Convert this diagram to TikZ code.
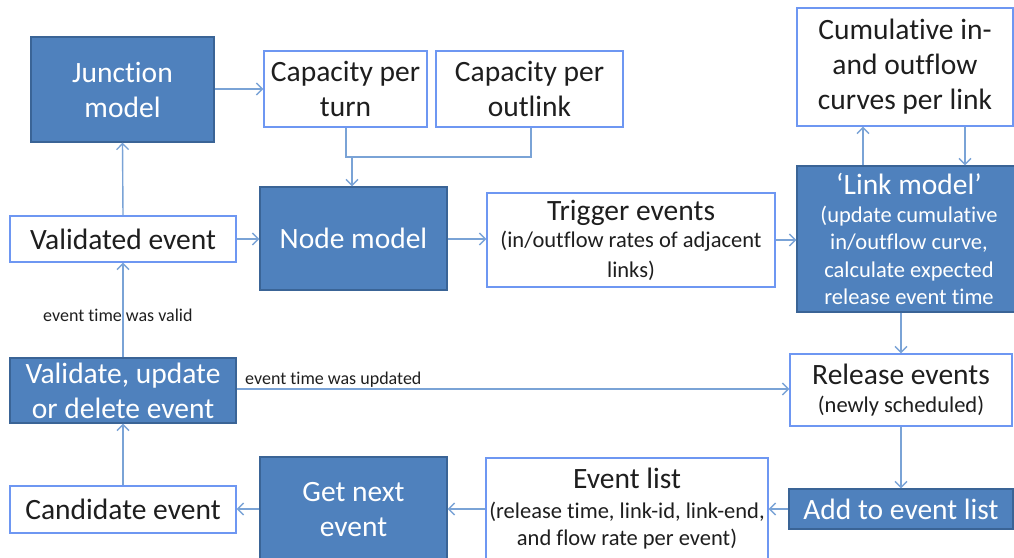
\documentclass[tikz,border=0pt]{standalone}
\usepackage{fontspec}
\setmainfont{Carlito}[Ligatures=NoCommon]
\usetikzlibrary{arrows.meta}
\definecolor{bfill}{HTML}{4F81BD}
\definecolor{bdark}{HTML}{3A6496}
\definecolor{wline}{HTML}{6E97F2}
\definecolor{conn}{HTML}{7AA3D6}
\definecolor{txt}{HTML}{1E1E1E}
\newcommand{\subsz}{\fontsize{22.5}{27}\selectfont}
\tikzset{
  blue box/.style={draw=bdark, line width=1.4pt, fill=bfill, text=white, align=center, inner sep=0pt,
    font=\fontsize{29.5}{35}\selectfont},
  white box/.style={draw=wline, line width=1.4pt, fill=white, text=txt, align=center, inner sep=0pt,
    font=\fontsize{29.5}{35}\selectfont},
  mixed/.style={font=\fontsize{29.5}{27.5}\selectfont},
  box text/.style={text=txt, align=center, inner sep=0pt},
  conn/.style={draw=conn, line width=1.4pt, -{Straight Barb[length=6pt,width=12pt,line width=1.3pt]}},
  plain conn/.style={draw=conn, line width=1.4pt},
  small label/.style={font=\fontsize{18}{21}\selectfont, text=txt, inner sep=0pt}
}
\begin{document}
\begin{tikzpicture}[x=1pt,y=-1pt]
\useasboundingbox (0,0) rectangle (1014,557);
\clip (0,0) rectangle (1014,557);
% top row
\node[blue box, minimum width=183pt, minimum height=105pt] (junc) at (122.5,89.5) {Junction\\model};
\node[white box, minimum width=163pt, minimum height=76pt] (capt) at (345.5,89) {Capacity per\\turn};
\node[white box, minimum width=187pt, minimum height=76pt] (capo) at (529.5,89) {Capacity per\\outlink};
\node[white box, minimum width=216pt, minimum height=118pt] (cum) at (905,67) {Cumulative in-\\and outflow\\curves per link};
% second row
\node[white box, minimum width=226pt, minimum height=46pt] (valid) at (123,239) {Validated event};
\node[blue box, minimum width=187pt, minimum height=103pt] (node) at (353.5,238.5) {Node model};
\node[white box, mixed, minimum width=288pt, minimum height=94pt] (trig) at (631,240) {Trigger events\\\subsz (in/outflow rates of adjacent\\[2pt]\subsz links)};
\node[blue box, mixed, minimum width=224pt, minimum height=146pt] (link) at (909,239) {`Link model'\\\subsz (update cumulative\\\subsz in/outflow curve,\\\subsz calculate expected\\\subsz release event time};
% third row
\node[blue box, minimum width=226pt, minimum height=65pt] (vud) at (123,390.5) {Validate, update\\or delete event};
\node[white box, mixed, minimum width=222pt, minimum height=72pt] (rel) at (901,390) {Release events\\[1pt]\subsz (newly scheduled)};
% bottom row
\node[white box, minimum width=226pt, minimum height=47pt] (cand) at (123,509.5) {Candidate event};
\node[blue box, minimum width=187pt, minimum height=106pt] (next) at (353.5,510) {Get next\\event};
\node[white box, minimum width=282pt, minimum height=124pt] (elist) at (627,520) {};
\node[box text, mixed, anchor=north] (elisttxt) at (627,468) {Event list\\[2pt]\subsz (release time, link-id, link-end,\\\subsz and flow rate per event)};
\node[blue box, minimum width=224pt, minimum height=40pt] (add) at (901,509) {Add to event list};
% connectors
\draw[conn] (junc.east |- 0,89) -- (capt.west |- 0,89);
\draw[conn] (valid.north) -- (junc.south);
\draw[conn] (valid.east) -- (node.west |- valid.east);
\coordinate (mL) at (346,157);
\coordinate (mR) at (531,157);
\coordinate (mA) at (352,157);
\draw[plain conn] (capt.south -| mL) -- (mL) -- (mR) -- (capo.south -| mR);
\draw[conn] (mA) -- (node.north -| mA);
\draw[conn] (node.east |- 0,239) -- (trig.west |- 0,239);
\draw[conn] (trig.east |- 0,240) -- (link.west |- 0,240);
\coordinate (cu) at (863,0);
\coordinate (cd) at (965,0);
\draw[conn] (link.north -| cu) -- (cum.south -| cu);
\draw[conn] (cum.south -| cd) -- (link.north -| cd);
\coordinate (rx) at (901,0);
\draw[conn] (link.south -| rx) -- (rel.north -| rx);
\draw[conn] (rel.south -| rx) -- (add.north -| rx);
\draw[conn] (add.west) -- (elist.east |- add.west);
\draw[conn] (elist.west |- 0,509) -- (next.east |- 0,509);
\draw[conn] (next.west |- 0,509) -- (cand.east |- 0,509);
\draw[conn] (cand.north) -- (vud.south);
\draw[conn] (vud.north) -- (valid.south);
\draw[conn] (vud.east |- 0,389) -- (rel.west |- 0,389);
\node[small label, anchor=west] (lvalid) at (43,315) {event time was valid};
\node[small label, anchor=west] (lupd) at (245,380) {event time was updated};
\end{tikzpicture}
\end{document}
